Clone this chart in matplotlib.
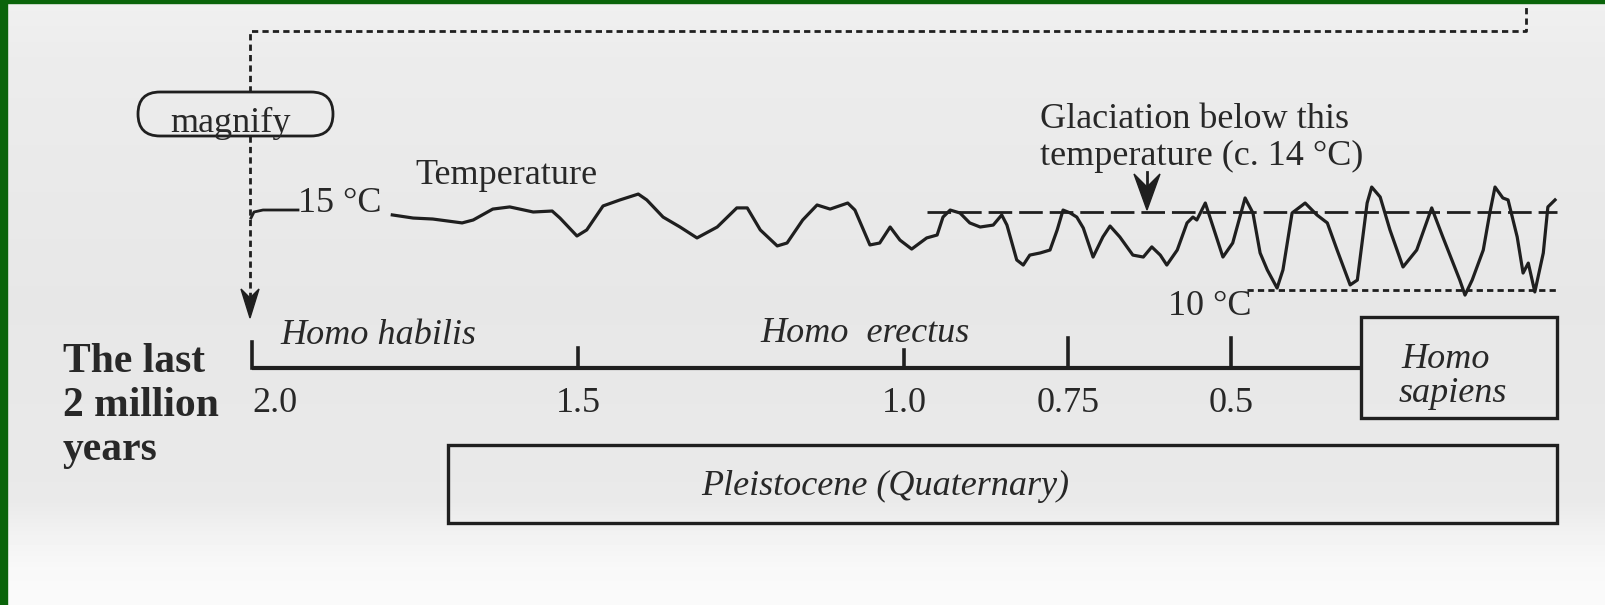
import numpy as np
import matplotlib
matplotlib.use("Agg")
import matplotlib.pyplot as plt
from matplotlib import transforms
from matplotlib.patches import Rectangle, FancyBboxPatch, Polygon

plt.rcParams["font.family"] = ["Liberation Serif", "DejaVu Serif"]
plt.rcParams["lines.scale_dashes"] = False

# temperature record: age (million years ago) and temperature (deg C)
ages = [1.785, 1.753, 1.723, 1.678, 1.661, 1.631, 1.605, 1.569, 1.540, 1.528,
        1.502, 1.487, 1.462, 1.436, 1.408, 1.395, 1.370, 1.344, 1.318, 1.287,
        1.257, 1.241, 1.221, 1.195, 1.180, 1.156, 1.134, 1.114, 1.087, 1.076,
        1.053, 1.038, 1.022, 1.007, 0.989, 0.966, 0.950, 0.941, 0.930, 0.915,
        0.900, 0.884, 0.864, 0.851, 0.843, 0.828, 0.818, 0.808, 0.792, 0.777,
        0.766, 0.757, 0.746, 0.736, 0.726, 0.711, 0.696, 0.685, 0.670, 0.650,
        0.634, 0.621, 0.608, 0.598, 0.582, 0.567, 0.558, 0.552, 0.539, 0.527,
        0.512, 0.497, 0.478, 0.466, 0.455, 0.444, 0.429, 0.420, 0.406, 0.386,
        0.368, 0.352, 0.337, 0.317, 0.306, 0.291, 0.284, 0.271, 0.256, 0.236,
        0.215, 0.192, 0.175, 0.149, 0.141, 0.130, 0.113, 0.103, 0.095, 0.083,
        0.075, 0.061, 0.052, 0.044, 0.034, 0.021, 0.014, 0.003]
temps = [13.85, 13.69, 13.64, 13.44, 13.59, 14.15, 14.26, 14.00, 14.05, 13.69,
         12.77, 13.08, 14.31, 14.62, 14.92, 14.62, 13.74, 13.23, 12.67, 13.23,
         14.21, 14.21, 13.08, 12.26, 12.41, 13.59, 14.36, 14.15, 14.46, 14.10,
         12.31, 12.41, 13.23, 12.56, 12.10, 12.67, 12.82, 13.74, 14.10, 13.95,
         13.44, 13.23, 13.33, 13.85, 13.33, 11.54, 11.28, 11.79, 11.90, 12.05,
         13.08, 14.10, 13.95, 13.74, 13.18, 11.69, 12.72, 13.28, 12.72, 11.79,
         11.69, 12.21, 11.79, 11.28, 12.05, 13.44, 13.74, 13.59, 14.46, 13.23,
         11.69, 12.41, 14.72, 13.95, 11.90, 11.03, 10.10, 11.03, 13.95, 14.46,
         13.85, 13.44, 12.05, 10.26, 10.51, 14.46, 15.28, 14.77, 13.08, 11.18,
         12.05, 14.21, 12.72, 10.51, 9.74, 10.51, 12.05, 13.95, 15.28, 14.72,
         14.62, 12.72, 10.87, 11.38, 9.90, 11.90, 14.26, 14.62]

tick_ages = [2.0, 1.5, 1.0, 0.75, 0.5]
tick_labels = ["2.0", "1.5", "1.0", "0.75", "0.5"]
tick_heights = [26, 20, 18, 30, 30]

glaciation_temp = 14
glaciation_start = 0.965
low_temp = 10
low_start = 0.475

sapiens_span = (0.3, 0.0)
pleistocene_span = (1.7, 0.0)

W, H = 1606, 605
X_OLD = 252          # pixel column of 2.0 Myr
PX_MYR = 652.5       # pixels per million years
Y_GLAC = 212         # pixel row of 14 C
PX_DEG = 19.5        # pixels per degree

ink = "#1f1f1f"
txt = "#282828"
FS = 26

fig = plt.figure(figsize=(W / 100, H / 100), dpi=100)
fig.patch.set_facecolor("#ebebeb")

# layout axes in pixels
lay = fig.add_axes([0, 0, 1, 1])
lay.set_xlim(0, W)
lay.set_ylim(H, 0)
lay.axis("off")

# paper tone of the scan
stops = [0, 60, 300, 500, 535, 570, H]
greys = [0.94, 0.925, 0.905, 0.915, 0.95, 0.975, 0.98]
shade = np.interp(np.arange(H), stops, greys)[:, None] * np.ones((1, 8))
lay.imshow(shade, cmap="gray", vmin=0, vmax=1, extent=[0, W, H, 0],
           aspect="auto", zorder=0)

# green frame of the slide
lay.add_patch(Rectangle((0, 0), 7, H, color="#0a640a", zorder=5))
lay.add_patch(Rectangle((0, 0), W, 3, color="#0a640a", zorder=5))

# data axes: age in Myr across, temperature up
ax = fig.add_axes([0, 0, 1, 1])
ax.set_xlim(2 + X_OLD / PX_MYR, 2 - (W - X_OLD) / PX_MYR)
ax.set_ylim(glaciation_temp - (H - Y_GLAC) / PX_DEG,
            glaciation_temp + Y_GLAC / PX_DEG)
ax.axis("off")
tl = transforms.blended_transform_factory(ax.transData, lay.transData)

# magnify connector
lay.plot([250, 250, 1526, 1526], [92, 31, 31, 0], color=ink, lw=2,
         dashes=(4.5, 3))
lay.plot([250, 250], [136, 300], color=ink, lw=2, dashes=(4.5, 3))
lay.add_patch(Polygon([(250, 318), (241, 289), (250, 298), (259, 289)],
                      closed=True, color=ink))
lay.add_patch(FancyBboxPatch((138, 92), 195, 44,
                             boxstyle="round,pad=0,rounding_size=22",
                             fc="none", ec=ink, lw=2))
lay.text(231, 123, "magnify", fontsize=FS, color=txt, ha="center", va="center")

# 15 C leader
lay.plot([251, 254, 263, 298], [218, 212, 210, 210], color=ink, lw=2)
lay.text(298, 204, "15 °C", fontsize=FS, color=txt, ha="left", va="center")

# temperature curve
ax.plot(ages, temps, color=ink, lw=2.3, solid_joinstyle="round")
ax.text(1.75, 175, "Temperature", transform=tl, fontsize=FS, color=txt,
        ha="left", va="center")

# glaciation threshold and 10 C floor
ax.plot([glaciation_start, 0], [glaciation_temp] * 2, color=ink, lw=2,
        dashes=(17, 5))
ax.plot([low_start, 0], [low_temp] * 2, color=ink, lw=2, dashes=(4.5, 3))
ax.annotate("10 °C", xy=(low_start, low_temp), xytext=(3, -12),
            textcoords="offset points", fontsize=FS, color=txt,
            ha="right", va="center")

lay.text(1040, 119, "Glaciation below this", fontsize=FS, color=txt,
         ha="left", va="center")
lay.text(1040, 156, "temperature (c. 14 °C)", fontsize=FS, color=txt,
         ha="left", va="center")
lay.plot([1147, 1147], [172, 188], color=ink, lw=2)
lay.add_patch(Polygon([(1147, 210), (1134, 174), (1147, 187), (1160, 174)],
                      closed=True, color=ink))

# time line
ax.plot([tick_ages[0], sapiens_span[0]], [368, 368], transform=tl,
        color=ink, lw=3, solid_capstyle="butt")
for age, h, lab in zip(tick_ages, tick_heights, tick_labels):
    ax.plot([age, age], [368, 368 - h], transform=tl, color=ink, lw=2.6)
    ax.text(age, 404, lab, transform=tl, fontsize=FS, color=txt,
            ha="left" if age == 2.0 else "center", va="center")

ax.text(1.957, 336, "Homo habilis", transform=tl, fontsize=FS, color=txt,
        style="italic", ha="left", va="center")
ax.text(1.06, 333, "Homo  erectus", transform=tl, fontsize=FS, color=txt,
        style="italic", ha="center", va="center")

ax.add_patch(Rectangle((sapiens_span[0], 317),
                       sapiens_span[1] - sapiens_span[0], 101,
                       transform=tl, fc="none", ec=ink, lw=2.4))
ax.text(0.17, 359, "Homo", transform=tl, fontsize=FS, color=txt,
        style="italic", ha="center", va="center")
ax.text(0.16, 394, "sapiens", transform=tl, fontsize=FS, color=txt,
        style="italic", ha="center", va="center")

ax.add_patch(Rectangle((pleistocene_span[0], 445),
                       pleistocene_span[1] - pleistocene_span[0], 78,
                       transform=tl, fc="none", ec=ink, lw=2.4))
ax.text(1.03, 486, "Pleistocene (Quaternary)", transform=tl, fontsize=FS,
        color=txt, style="italic", ha="center", va="center")

for i, line in enumerate(["The last", "2 million", "years"]):
    lay.text(63, 362 + 44 * i, line, fontsize=30, fontweight="bold",
             color=txt, ha="left", va="center")

fig.savefig("out.png", dpi=100, facecolor=fig.get_facecolor())
